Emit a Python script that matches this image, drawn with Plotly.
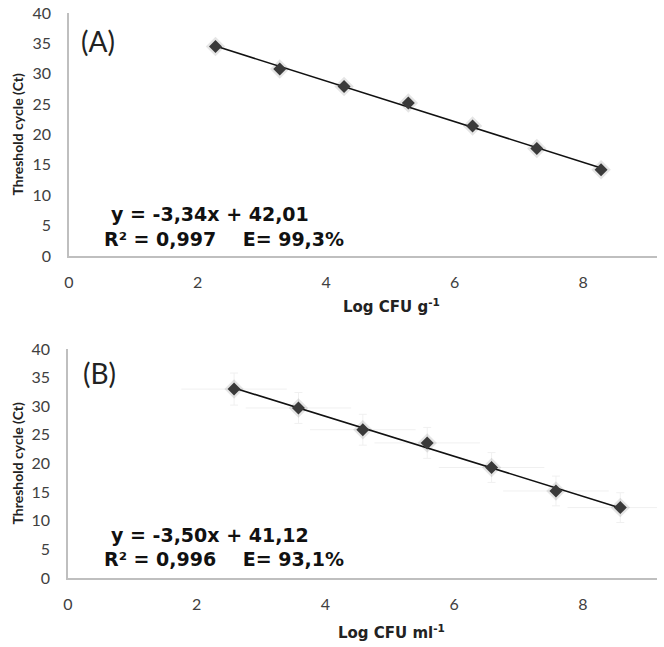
import numpy as np
import plotly.graph_objects as go

# ---- data ----
xa = [2.28, 3.28, 4.28, 5.28, 6.28, 7.28, 8.28]
ya = [34.5, 30.8, 27.9, 25.2, 21.4, 17.7, 14.2]

xb = [2.58, 3.58, 4.58, 5.58, 6.58, 7.58, 8.58]
yb = [33.0, 29.7, 25.9, 23.6, 19.3, 15.2, 12.3]
xb_err = [0.82, 0.82, 0.82, 0.82, 0.82, 0.82, 0.82]
yb_err = [2.8, 2.7, 2.7, 2.7, 2.6, 2.6, 2.6]

eq_a = ["y = -3,34x + 42,01", "R² = 0,997\u00a0\u00a0\u00a0\u00a0E= 99,3%"]
eq_b = ["y = -3,50x + 41,12", "R² = 0,996\u00a0\u00a0\u00a0\u00a0E= 93,1%"]
panel_labels = ["(A)", "(B)"]
x_titles = ["Log CFU g<sup>-1</sup>", "Log CFU ml<sup>-1</sup>"]
y_title = "Threshold cycle (Ct)"
x_ticks = [0, 2, 4, 6, 8]
y_ticks = [0, 5, 10, 15, 20, 25, 30, 35, 40]

W, H = 664, 647
MARK = "#3a3a3a"
AXC = "#bfbfbf"
TICKC = "#404040"

fig = go.Figure()


def add_panel(x, y, xa_name, ya_name, err=None):
    x = np.array(x)
    y = np.array(y)
    k, b = np.polyfit(x, y, 1)
    xl = np.array([x.min(), x.max()])
    if err is not None:
        fig.add_trace(go.Scatter(
            x=x, y=y, mode="markers", xaxis=xa_name, yaxis=ya_name,
            marker=dict(size=1, color="rgba(0,0,0,0)"),
            error_x=dict(type="data", array=err[0], color="#f0f0f0", thickness=1, width=0),
            error_y=dict(type="data", array=err[1], color="#f0f0f0", thickness=1, width=4),
            showlegend=False, hoverinfo="skip"))
    fig.add_trace(go.Scatter(
        x=x, y=y, mode="markers", xaxis=xa_name, yaxis=ya_name,
        marker=dict(symbol="diamond", size=15, color="rgba(0,0,0,0.10)"),
        showlegend=False, hoverinfo="skip"))
    fig.add_trace(go.Scatter(
        x=xl, y=k * xl + b, mode="lines", xaxis=xa_name, yaxis=ya_name,
        line=dict(color="#111111", width=1.6), showlegend=False))
    fig.add_trace(go.Scatter(
        x=x, y=y, mode="markers", xaxis=xa_name, yaxis=ya_name,
        marker=dict(symbol="diamond", size=10, color=MARK),
        showlegend=False))


add_panel(xa, ya, "x", "y")
add_panel(xb, yb, "x2", "y2", err=(xb_err, yb_err))

ax_common = dict(
    range=[0, 9.15], tickvals=x_ticks, showgrid=False, zeroline=False,
    showline=True, linecolor=AXC, linewidth=1.5, ticks="", automargin=False,
    tickfont=dict(family="Lato", size=16, color=TICKC), ticklabelstandoff=11,
)
ay_common = dict(
    range=[0, 40], tickvals=y_ticks, showgrid=False, zeroline=False,
    showline=True, linecolor=AXC, linewidth=1.5, ticks="", automargin=False,
    tickfont=dict(family="Lato", size=16, color=TICKC), ticklabelstandoff=13,
)

fig.update_layout(
    width=W, height=H, margin=dict(l=0, r=0, t=0, b=0),
    paper_bgcolor="white", plot_bgcolor="white",
    xaxis=dict(ax_common, domain=[69 / W, 657 / W], anchor="y"),
    yaxis=dict(ay_common, domain=[1 - 256 / H, 1 - 13 / H], anchor="x"),
    xaxis2=dict(ax_common, domain=[68 / W, 657 / W], anchor="y2"),
    yaxis2=dict(ay_common, domain=[1 - 578 / H, 1 - 349 / H], anchor="x2"),
)

ann = []
# panel labels
for lbl, px, py in [(panel_labels[0], 79, 41), (panel_labels[1], 81, 373)]:
    ann.append(dict(text=lbl, x=px / W, y=1 - py / H, xref="paper", yref="paper",
                    xanchor="left", yanchor="middle", showarrow=False,
                    font=dict(family="Lato", size=28, color="#222222")))
# equations
for eq, y1, y2 in [(eq_a, 214, 239), (eq_b, 535, 559)]:
    ann.append(dict(text=eq[0], x=109 / W, y=1 - y1 / H, xref="paper", yref="paper",
                    xanchor="left", yanchor="middle", showarrow=False,
                    font=dict(family="DejaVu Sans", size=19, color="#111111", weight="bold")))
    ann.append(dict(text=eq[1], x=102 / W, y=1 - y2 / H, xref="paper", yref="paper",
                    xanchor="left", yanchor="middle", showarrow=False,
                    font=dict(family="DejaVu Sans", size=19, color="#111111", weight="bold")))
# x titles
for t, px, py in [(x_titles[0], 391, 306), (x_titles[1], 391, 632)]:
    ann.append(dict(text=t, x=px / W, y=1 - py / H, xref="paper", yref="paper",
                    xanchor="center", yanchor="middle", showarrow=False,
                    font=dict(family="DejaVu Sans", size=15, color="#222222", weight="bold")))
# y titles
for py in [(13 + 256) / 2, (349 + 578) / 2]:
    ann.append(dict(text=y_title, x=17 / W, y=1 - py / H, xref="paper", yref="paper",
                    xanchor="center", yanchor="middle", showarrow=False, textangle=-90,
                    font=dict(family="Lato", size=14, color="#222222", weight="bold")))
fig.update_layout(annotations=ann)

fig.write_html("out.html", config={"displayModeBar": False},
               post_script="document.body.style.margin='0';document.body.style.padding='0';")
